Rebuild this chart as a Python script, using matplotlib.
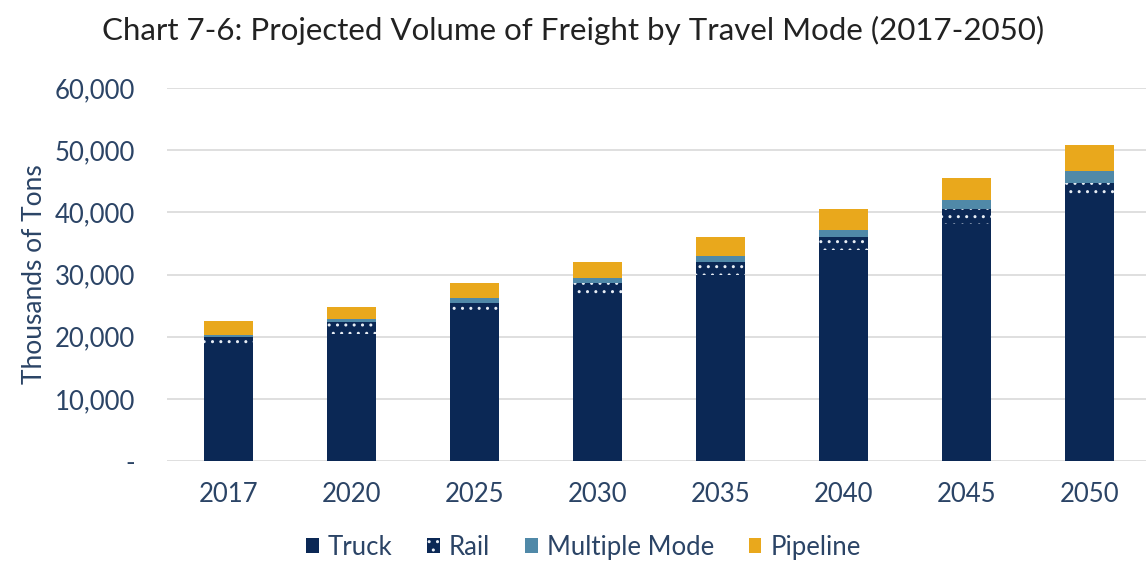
import matplotlib
matplotlib.use("Agg")
import matplotlib.pyplot as plt
import numpy as np

years = ["2017", "2020", "2025", "2030", "2035", "2040", "2045", "2050"]
# thousands of tons
truck = [18700, 20500, 23500, 26700, 30000, 33900, 38100, 42500]
rail = [1300, 1800, 2000, 1900, 2000, 2200, 2500, 2300]
multi = [300, 500, 700, 800, 1000, 1100, 1400, 1900]
pipeline = [2200, 2000, 2500, 2700, 3000, 3300, 3600, 4200]

yticks = [0, 10000, 20000, 30000, 40000, 50000, 60000]
ytick_labels = ["-", "10,000", "20,000", "30,000", "40,000", "50,000", "60,000"]

navy = "#0b2855"
steel = "#5089a8"
gold = "#e9a81c"
txt = "#2b4466"

plt.rcParams["font.family"] = ["Lato", "DejaVu Sans"]
plt.rcParams["hatch.linewidth"] = 1.0

fig = plt.figure(figsize=(11.46, 5.65), dpi=100)
ax = fig.add_axes([0.146, 0.184, 0.854, 0.660])

x = np.arange(len(years))
w = 0.4
b1 = np.array(truck)
b2 = b1 + np.array(rail)
b3 = b2 + np.array(multi)

ax.bar(x, truck, w, color=navy, label="Truck", zorder=2)
ax.bar(x, rail, w, bottom=b1, color=navy, edgecolor="#e8eef5", hatch="..",
       linewidth=0, label="Rail", zorder=2)
ax.bar(x, multi, w, bottom=b2, color=steel, label="Multiple Mode", zorder=2)
ax.bar(x, pipeline, w, bottom=b3, color=gold, label="Pipeline", zorder=2)

ax.set_xlim(-0.5, 7.457)
ax.set_ylim(0, 60000)
ax.set_yticks(yticks)
ax.set_yticklabels(ytick_labels)
ax.set_xticks(x)
ax.set_xticklabels(years)
ax.yaxis.grid(True, color="#d9d9d9", linewidth=1.2, zorder=0)
ax.set_axisbelow(True)
for s in ax.spines.values():
    s.set_visible(False)
ax.tick_params(axis="both", length=0, labelsize=18.5, colors=txt)
ax.tick_params(axis="y", pad=23)
ax.tick_params(axis="x", pad=15)
ax.set_ylabel("Thousands of Tons", fontsize=19, color=txt, labelpad=6)

fig.suptitle("Chart 7-6: Projected Volume of Freight by Travel Mode (2017-2050)",
             fontsize=22.5, color="#222222", y=0.972)

leg = ax.legend(loc="upper center", bbox_to_anchor=(0.425, -0.135), ncol=4,
                frameon=False, fontsize=18.5, handlelength=0.5, handleheight=0.5,
                handletextpad=0.35, columnspacing=1.35, labelcolor=txt)

fig.savefig("out.png", dpi=100, facecolor="white")
